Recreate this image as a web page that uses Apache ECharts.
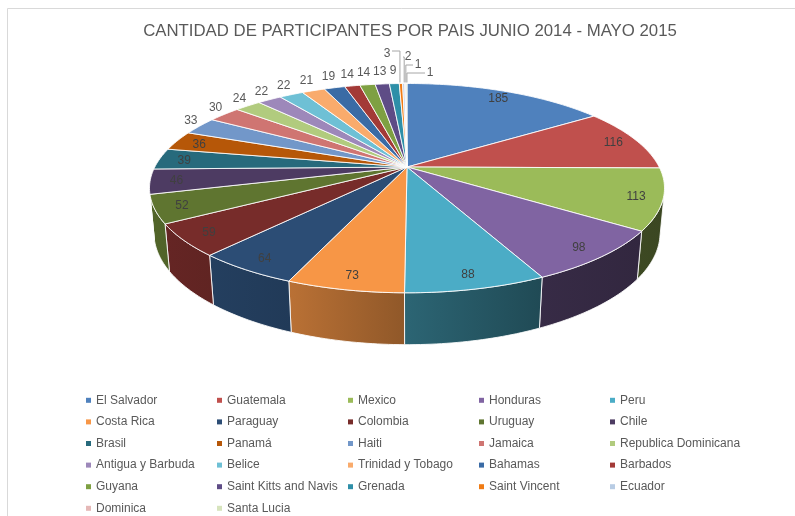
<!DOCTYPE html>
<html><head><meta charset="utf-8">
<script src="https://cdn.jsdelivr.net/npm/echarts@6/dist/echarts.min.js"></script>
<style>html,body{margin:0;padding:0;background:#fff}#c{width:795px;height:516px}</style>
</head><body><div id="c"></div>
<script>
// ---------- data ----------
const titleText = 'CANTIDAD DE PARTICIPANTES POR PAIS JUNIO 2014 - MAYO 2015';
const countries = ['El Salvador','Guatemala','Mexico','Honduras','Peru','Costa Rica','Paraguay','Colombia','Uruguay','Chile','Brasil','Panamá','Haiti','Jamaica','Republica Dominicana','Antigua y Barbuda','Belice','Trinidad y Tobago','Bahamas','Barbados','Guyana','Saint Kitts and Navis','Grenada','Saint Vincent','Ecuador','Dominica','Santa Lucia'];
const participants = [185,116,113,98,88,73,64,59,52,46,39,36,33,30,24,22,22,21,19,14,14,13,9,3,2,1,1];
const sliceColors = ['#4F81BD','#C0504D','#9BBB59','#8064A2','#4BACC6','#F79646','#2C4D75','#772C2A','#5F7530','#4D3B62','#276A7C','#B65708','#7297C9','#CF7572','#B1CB7E','#9D88BA','#6EC0D5','#F9AB6C','#3A6BA5','#A33A37','#7EA042','#5E4C86','#2E8FA8','#F07B14','#B8CCE4','#E5B8B7','#D7E4BD'];

// ---------- geometry helpers (layout only) ----------
const total = participants.reduce((a, b) => a + b, 0);
const startFrac = [];
(function () { let acc = 0; participants.forEach(v => { startFrac.push(acc / total); acc += v; }); })();

const VIEW = { cx: 407, cy: 167, f: 1145, D: 4.54, sinA: 0.398, cosA: 0.917, h: 0.192 };
function proj(theta, rho, z) {
  const X = rho * Math.sin(theta), Y = rho * Math.cos(theta);
  const depth = VIEW.D + Y * VIEW.cosA - z * VIEW.sinA;
  const up = Y * VIEW.sinA + z * VIEW.cosA;
  return [VIEW.cx + VIEW.f * X / depth, VIEW.cy - VIEW.f * up / depth];
}
const VIS0 = Math.acos(-1 / (VIEW.D * VIEW.cosA));
const VIS1 = 2 * Math.PI - VIS0;

const shadeKnots = [[150, 0.86], [330, 0.72], [407, 0.58], [540, 0.43], [670, 0.38]];
function shadeAt(x) {
  if (x <= shadeKnots[0][0]) return shadeKnots[0][1];
  for (let i = 1; i < shadeKnots.length; i++) {
    if (x <= shadeKnots[i][0]) {
      const [x0, s0] = shadeKnots[i - 1], [x1, s1] = shadeKnots[i];
      return s0 + (s1 - s0) * (x - x0) / (x1 - x0);
    }
  }
  return shadeKnots[shadeKnots.length - 1][1];
}
function darken(hex, k) {
  const n = parseInt(hex.slice(1), 16);
  const r = Math.round(((n >> 16) & 255) * k), g = Math.round(((n >> 8) & 255) * k), b = Math.round((n & 255) * k);
  return 'rgb(' + r + ',' + g + ',' + b + ')';
}

// leader-label layout offsets for the tiniest slices
const smallLabelDX = [0, 21, 31, 43];
const smallLabelDY = [0, 3, 11, 19];
let smallIdx = {};
(function () { let k = 0; participants.forEach((v, i) => { if (v / total < 0.004) smallIdx[i] = k++; }); })();

function renderSlice(params, api) {
  const i = params.dataIndex;
  const val = api.value(0);
  const color = sliceColors[i];
  const a0 = startFrac[i] * 2 * Math.PI;
  const a1 = a0 + val / total * 2 * Math.PI;
  const children = [];
  const steps = Math.max(2, Math.ceil((a1 - a0) / (Math.PI / 180)));
  const topPts = [proj(0, 0, 0)];
  for (let k = 0; k <= steps; k++) topPts.push(proj(a0 + (a1 - a0) * k / steps, 1, 0));
  children.push({ type: 'polygon', z2: 20, shape: { points: topPts },
    style: { fill: color, stroke: 'rgba(255,255,255,0.85)', lineWidth: 1, lineJoin: 'round' } });

  const w0 = Math.max(a0, VIS0), w1 = Math.min(a1, VIS1);
  if (w1 > w0) {
    const n = Math.max(2, Math.ceil((w1 - w0) / (Math.PI / 180)));
    const pts = [];
    for (let k = 0; k <= n; k++) pts.push(proj(w0 + (w1 - w0) * k / n, 1, 0));
    for (let k = n; k >= 0; k--) pts.push(proj(w0 + (w1 - w0) * k / n, 1, -VIEW.h));
    let xmin = Infinity, xmax = -Infinity;
    pts.forEach(p => { xmin = Math.min(xmin, p[0]); xmax = Math.max(xmax, p[0]); });
    children.push({ type: 'polygon', z2: 10, shape: { points: pts },
      style: {
        fill: new echarts.graphic.LinearGradient(xmin, 0, xmax, 0, [
          { offset: 0, color: darken(color, shadeAt(xmin)) },
          { offset: 1, color: darken(color, shadeAt(xmax)) }], true),
        stroke: 'rgba(255,255,255,0.85)', lineWidth: 1, lineJoin: 'round'
      } });
  }

  // labels
  const mid = (a0 + a1) / 2;
  const share = val / total;
  const font = '12px "Liberation Sans", Arial, sans-serif';
  if (share >= 0.03) {
    const p = proj(mid, 0.9, 0);
    children.push({ type: 'text', z2: 40, x: p[0], y: p[1] + 1,
      style: { text: String(val), font: font, fill: '#404040', align: 'center', verticalAlign: 'middle' } });
  } else if (smallIdx[i] === undefined) {
    const e = proj(mid, 1, 0), c = proj(0, 0, 0);
    const dx = e[0] - c[0], dy = e[1] - c[1], L = Math.hypot(dx, dy);
    const x = e[0] + dx / L * 9, y = e[1] + dy / L * 9 - 4;
    children.push({ type: 'text', z2: 40, x: x, y: y,
      style: { text: String(val), font: font, fill: '#595959', align: 'center', verticalAlign: 'middle' } });
  } else {
    const k = smallIdx[i];
    const e = proj(mid, 1, 0);
    const lx = 387 + smallLabelDX[k], ly = 54 + smallLabelDY[k];
    let line;
    if (k === 0) line = [[lx + 5, ly - 3], [e[0] - 1, ly - 3], [e[0] - 1, e[1] - 1]];
    else line = [[lx - 5, ly], [e[0] + 0.5, ly], [e[0] + 0.5, e[1] - 1]];
    children.push({ type: 'polyline', z2: 30, shape: { points: line },
      style: { stroke: '#a6a6a6', lineWidth: 1, fill: 'none' } });
    children.push({ type: 'text', z2: 40, x: lx, y: ly,
      style: { text: String(val), font: font, fill: '#595959', align: 'center', verticalAlign: 'middle' } });
  }
  return { type: 'group', children: children };
}

const chart = echarts.init(document.getElementById('c'), null, { renderer: 'canvas' });
chart.setOption({
  animation: false,
  backgroundColor: '#ffffff',
  color: sliceColors,
  title: {
    text: titleText, left: 410, textAlign: 'center', top: 20, padding: 0,
    textStyle: { fontFamily: '"Liberation Sans", Arial, sans-serif', fontSize: 16.8, fontWeight: 'normal', color: '#595959', lineHeight: 22 }
  },
  legend: {
    data: countries, left: 86, top: 392, width: 700, padding: 0, orient: 'horizontal',
    icon: 'rect', itemWidth: 5, itemHeight: 5, itemGap: 5, selectedMode: false,
    textStyle: { fontFamily: '"Liberation Sans", Arial, sans-serif', fontSize: 12, color: '#595959', width: 116, height: 16.6, lineHeight: 16.6 }
  },
  graphic: [{ type: 'rect', silent: true, z: -10, shape: { x: 7.5, y: 8.5, width: 800, height: 530 },
    style: { fill: 'none', stroke: '#d9d9d9', lineWidth: 1 } }],
  series: [
    { type: 'pie', name: 'legendProxy', silent: true, radius: [0, 0], center: [-100, -100],
      label: { show: false }, labelLine: { show: false },
      data: countries.map((n, i) => ({ name: n, value: participants[i] })) },
    { type: 'custom', name: 'Participantes', coordinateSystem: 'none', silent: true,
      renderItem: renderSlice, data: participants.map(v => [v]) }
  ]
});
</script></body></html>
